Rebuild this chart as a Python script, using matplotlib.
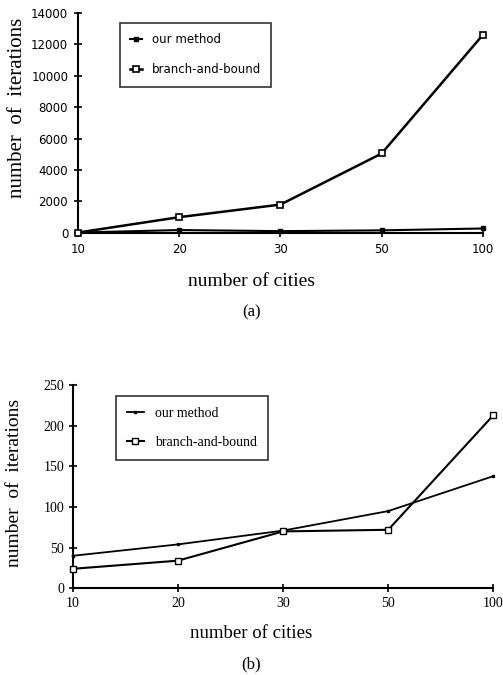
import matplotlib
matplotlib.use("Agg")
import matplotlib.pyplot as plt
import numpy as np

cities = ["10", "20", "30", "50", "100"]
top_ours = [20, 180, 110, 160, 280]
top_bb = [20, 1000, 1800, 5050, 12600]
bot_ours = [40, 54, 71, 95, 138]
bot_bb = [24, 34, 70, 72, 213]

fig = plt.figure(figsize=(5.03, 6.75), dpi=100)
x = np.arange(len(cities))

serif = "Liberation Serif"
sans = "DejaVu Sans"

# ---- top (a)
ax1 = fig.add_axes([0.155, 0.655, 0.805, 0.326])
ax1.plot(x, top_ours, color="black", lw=1.5, marker="s", ms=2.5, clip_on=False, zorder=3,
         label="our method")
ax1.plot(x, top_bb, color="black", lw=1.8, marker="s", ms=5, mfc="white", mew=1.2,
         clip_on=False, zorder=4, label="branch-and-bound")
ax1.set_xlim(0, 4)
ax1.set_ylim(0, 14000)
ax1.set_yticks(np.arange(0, 14001, 2000))
ax1.set_xticks(x)
ax1.set_xticklabels(cities)
for s in ["top", "right"]:
    ax1.spines[s].set_visible(False)
for s in ["left", "bottom"]:
    ax1.spines[s].set_linewidth(1.5)
ax1.tick_params(direction="inout", length=6, width=1.2, labelsize=8.5, pad=4)
for lab in ax1.get_xticklabels() + ax1.get_yticklabels():
    lab.set_family(sans)
ax1.set_ylabel("number  of  iterations", family=serif, fontsize=15)
ax1.yaxis.set_label_coords(-0.126, 0.57)
leg1 = ax1.legend(loc="upper left", bbox_to_anchor=(0.103, 0.955), frameon=True, fancybox=False,
                  edgecolor="black", prop={"family": sans, "size": 8.5}, handlelength=1.0,
                  borderpad=0.9, labelspacing=1.4, borderaxespad=0, handletextpad=0.8)
leg1.get_frame().set_linewidth(1.2)
fig.text(0.50, 1 - 281 / 675, "number of cities", family=serif, fontsize=14, ha="center", va="center")
fig.text(0.50, 1 - 312 / 675, "(a)", family=serif, fontsize=12, ha="center", va="center")

# ---- bottom (b)
ax2 = fig.add_axes([0.1445, 0.1284, 0.8365, 0.3012])
ax2.plot(x, bot_ours, color="black", lw=1.3, marker="s", ms=2, clip_on=False, zorder=3,
         label="our method")
ax2.plot(x, bot_bb, color="black", lw=1.5, marker="s", ms=5, mfc="white", mew=1.0,
         clip_on=False, zorder=4, label="branch-and-bound")
ax2.set_xlim(0, 4)
ax2.set_ylim(0, 250)
ax2.set_yticks(np.arange(0, 251, 50))
ax2.set_xticks(x)
ax2.set_xticklabels(cities)
for s in ["top", "right"]:
    ax2.spines[s].set_visible(False)
for s in ["left", "bottom"]:
    ax2.spines[s].set_linewidth(1.5)
ax2.tick_params(direction="inout", length=6, width=1.2, labelsize=10, pad=3)
for lab in ax2.get_xticklabels() + ax2.get_yticklabels():
    lab.set_family(serif)
ax2.set_ylabel("number  of  iterations", family=serif, fontsize=14)
ax2.yaxis.set_label_coords(-0.118, 0.52)
leg2 = ax2.legend(loc="upper left", bbox_to_anchor=(0.103, 0.945), frameon=True, fancybox=False,
                  edgecolor="black", prop={"family": serif, "size": 10}, handlelength=1.2,
                  borderpad=0.8, labelspacing=1.1, borderaxespad=0, handletextpad=0.8)
leg2.get_frame().set_linewidth(1.2)
fig.text(0.50, 1 - 634 / 675, "number of cities", family=serif, fontsize=13.5, ha="center", va="center")
fig.text(0.50, 1 - 664 / 675, "(b)", family=serif, fontsize=12, ha="center", va="center")

fig.savefig("out.png", dpi=100)
